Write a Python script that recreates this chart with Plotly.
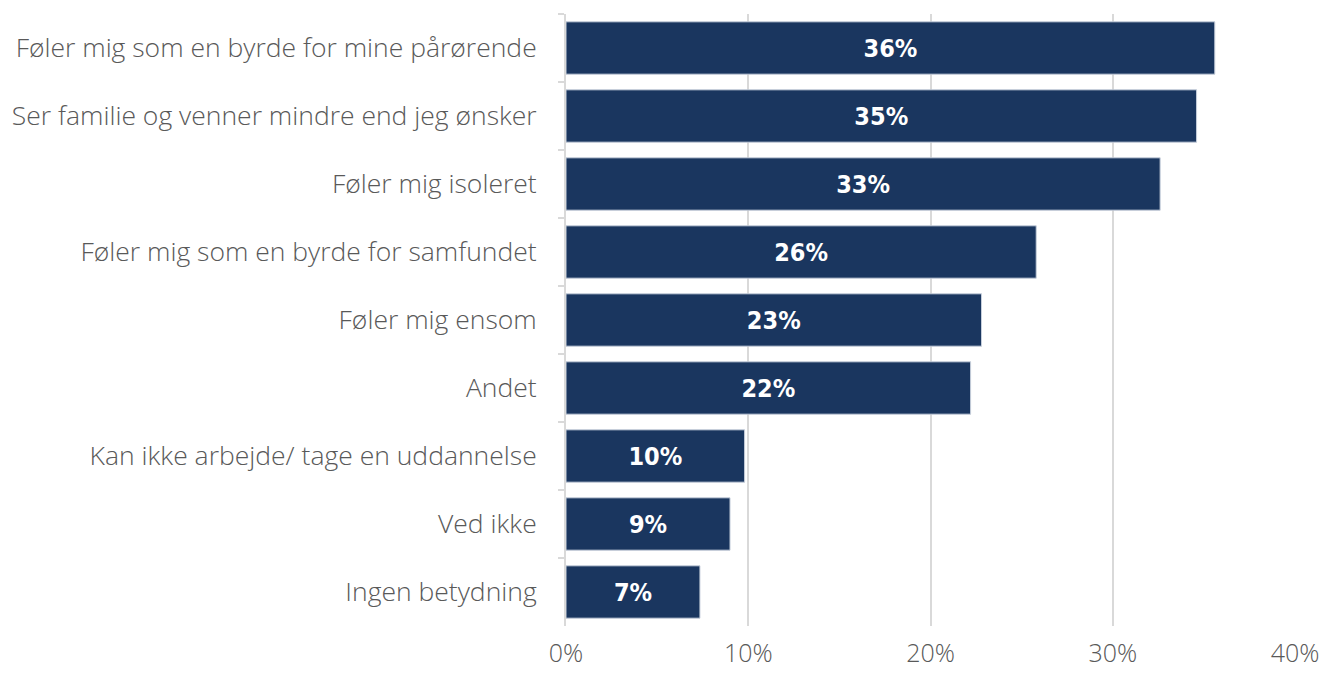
import plotly.graph_objects as go

categories = [
    "Føler mig som en byrde for mine pårørende",
    "Ser familie og venner mindre end jeg ønsker",
    "Føler mig isoleret",
    "Føler mig som en byrde for samfundet",
    "Føler mig ensom",
    "Andet",
    "Kan ikke arbejde/ tage en uddannelse",
    "Ved ikke",
    "Ingen betydning",
]
values = [35.6, 34.6, 32.6, 25.8, 22.8, 22.2, 9.8, 9.0, 7.35]
x_ticks = [0, 10, 20, 30, 40]
x_tick_labels = ["0%", "10%", "20%", "30%", "40%"]

fig = go.Figure(
    go.Bar(
        y=categories,
        x=values,
        orientation="h",
        marker=dict(color="#1a365f", line=dict(color="#c8d0dc", width=1)),
        width=0.77,
        texttemplate="%{x:.0f}%",
        textposition="inside",
        insidetextanchor="middle",
        textangle=0,
        textfont=dict(family="'Liberation Sans Narrow', 'DejaVu Sans Condensed', sans-serif",
                      size=25, color="white", weight="bold"),
        hoverinfo="skip",
    )
)

fig.update_layout(
    width=1322,
    height=675,
    margin=dict(l=566, r=27, t=14, b=49, autoexpand=False),
    plot_bgcolor="white",
    paper_bgcolor="white",
    showlegend=False,
    bargap=0.23,
)

fig.update_xaxes(
    range=[0, 40],
    tickvals=x_ticks,
    ticktext=x_tick_labels,
    showgrid=True,
    gridcolor="#d9d9d9",
    gridwidth=2,
    zeroline=False,
    showline=False,
    tickfont=dict(family="Open Sans", size=25, color="#595959", weight=300),
    ticks="",
    ticklabelstandoff=10,
    automargin=False,
    fixedrange=True,
)

fig.update_yaxes(
    autorange="reversed",
    showline=True,
    linecolor="#d9d9d9",
    linewidth=2,
    ticks="outside",
    tickson="boundaries",
    ticklen=6,
    tickcolor="#d9d9d9",
    tickwidth=2,
    showgrid=False,
    tickfont=dict(family="Open Sans", size=26.5, color="#595959", weight=300),
    ticklabelstandoff=22,
    automargin=False,
    fixedrange=True,
)

fig.write_html(
    "out.html",
    config={"displayModeBar": False},
    post_script="document.body.style.margin='0';document.body.style.overflow='hidden';",
)
